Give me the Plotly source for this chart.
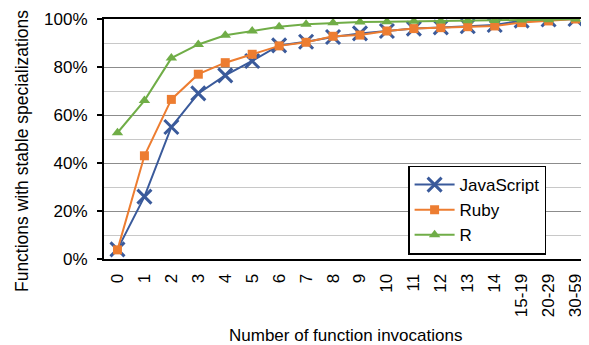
import plotly.graph_objects as go

categories = ["0", "1", "2", "3", "4", "5", "6", "7", "8", "9", "10", "11", "12", "13", "14", "15-19", "20-29", "30-59"]
javascript = [4, 26, 55, 69, 76.5, 82.5, 89, 90.5, 92.5, 94, 95, 96, 96.5, 97, 97.5, 99.3, 99.8, 100]
ruby = [3.8, 43, 66.5, 77, 81.8, 85.3, 88.8, 90.3, 92.8, 93.3, 95, 96, 96.4, 96.8, 97.1, 98.5, 99.2, 100]
r_lang = [52.6, 66, 83.7, 89.4, 93.2, 95, 96.8, 97.8, 98.4, 98.8, 98.9, 99.1, 99.2, 99.3, 99.4, 99.6, 99.7, 100]

FONT = "Liberation Sans, Arial, sans-serif"

fig = go.Figure()
fig.add_trace(go.Scatter(x=categories, y=[v / 100 for v in javascript], name="JavaScript",
                         mode="lines+markers",
                         line=dict(color="#3A5A9B", width=2),
                         marker=dict(symbol="x-thin", size=14, line=dict(color="#3A5A9B", width=3))))
fig.add_trace(go.Scatter(x=categories, y=[v / 100 for v in ruby], name="Ruby",
                         mode="lines+markers",
                         line=dict(color="#ED7D31", width=2),
                         marker=dict(symbol="square", size=9, color="#ED7D31")))
fig.add_trace(go.Scatter(x=categories, y=[v / 100 for v in r_lang], name="R",
                         mode="lines+markers",
                         line=dict(color="#70AD47", width=2),
                         marker=dict(symbol="triangle-up", size=10, color="#70AD47")))

fig.update_layout(
    width=581, height=337,
    margin=dict(l=96, r=0, t=11, b=86, autoexpand=False),
    paper_bgcolor="white", plot_bgcolor="white",
    font=dict(family=FONT, size=17, color="black"),
    showlegend=True,
    legend=dict(x=0.627, y=0.204, xanchor="left", yanchor="middle",
                bgcolor="white", bordercolor="black", borderwidth=1.5,
                font=dict(family=FONT, size=17, color="black"),
                tracegroupgap=0, itemwidth=40),
    xaxis=dict(type="category", range=[-0.5, 17.5], tickangle=-90, showgrid=False, automargin=False,
               showline=True, linecolor="black", linewidth=2, mirror=True,
               ticks="", tickfont=dict(size=17), ticklabelstandoff=6),
    yaxis=dict(range=[0, 1], dtick=0.2, tickformat=".0%", automargin=False,
               showgrid=True, gridcolor="#8C8C8C", gridwidth=1.2,
               minor=dict(dtick=0.1, showgrid=True, gridcolor="#C8C8C8", gridwidth=1),
               showline=True, linecolor="black", linewidth=2,
               ticks="outside", ticklen=5, tickcolor="black", tickwidth=1.5,
               zeroline=False, tickfont=dict(size=17), ticklabelstandoff=6),
    annotations=[
        dict(text="Functions with stable specializations", textangle=-90,
             xref="paper", yref="paper", x=-0.169, y=0.45, xanchor="center", yanchor="middle",
             showarrow=False, font=dict(family=FONT, size=17.5, color="black")),
        dict(text="Number of function invocations",
             xref="paper", yref="paper", x=0.497, y=-0.317, xanchor="center", yanchor="middle",
             showarrow=False, font=dict(family=FONT, size=17, color="black")),
    ],
)

fig.write_html("out.html")
